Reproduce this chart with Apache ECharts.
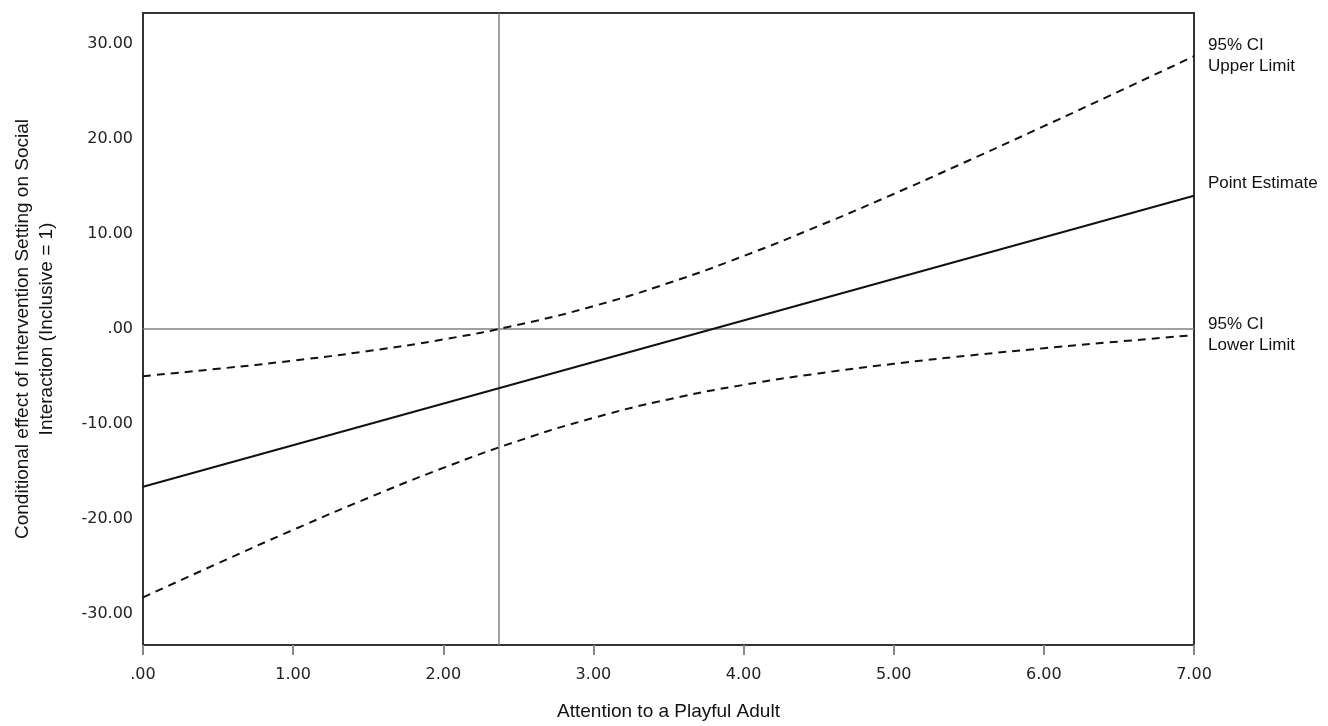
<!DOCTYPE html>
<html>
<head>
<meta charset="utf-8">
<script src="https://cdn.jsdelivr.net/npm/echarts@6/dist/echarts.min.js"></script>
<style>
html,body{margin:0;padding:0;background:#fff;}
#chart{width:1328px;height:726px;}
</style>
</head>
<body>
<div id="chart"></div>
<script>
// ---- data ----
const xValues   = [0, 0.5, 1, 1.5, 2, 2.5, 3, 3.5, 4, 4.5, 5, 5.5, 6, 6.5, 7];
const upperCI   = [-4.97, -4.19, -3.33, -2.32, -1.10, 0.45, 2.41, 4.84, 7.69, 10.86, 14.23, 17.76, 21.37, 25.04, 28.75];
const lowerCI   = [-28.29, -24.69, -21.17, -17.80, -14.64, -11.79, -9.37, -7.42, -5.89, -4.68, -3.67, -2.80, -2.03, -1.32, -0.65];
const pointX    = [0, 7];
const pointY    = [-16.63, 14.05];
const jnPoint   = 2.365;
const yTickValues = [-30, -20, -10, 0, 10, 20, 30];
const seriesNames = ['95% CI\nUpper Limit', 'Point Estimate', '95% CI\nLower Limit'];
const xTitle = 'Attention to a Playful Adult';
const yTitle = 'Conditional effect of Intervention Setting on Social\nInteraction (Inclusive = 1)';

function fmt(v) {
  let s = Number(v).toFixed(2);
  s = s.replace(/^0\./, '.').replace(/^-0\./, '-.');
  return s;
}
function pairs(xs, ys) { return xs.map((x, i) => [x, ys[i]]); }

const tickFont = { fontFamily: 'DejaVu Sans', fontSize: 16, color: '#222' };
const labelFont = { fontFamily: 'Liberation Sans', fontSize: 17, color: '#111', lineHeight: 21 };

const chart = echarts.init(document.getElementById('chart'), null, { renderer: 'canvas' });
chart.setOption({
  animation: false,
  backgroundColor: '#fff',
  grid: { left: 143, right: 134, top: 13, bottom: 77, show: true, borderColor: '#333', borderWidth: 2, containLabel: false },
  xAxis: {
    type: 'value', min: 0, max: 7, interval: 1,
    name: xTitle, nameLocation: 'middle', nameGap: 57,
    nameTextStyle: { fontFamily: 'Liberation Sans', fontSize: 19, color: '#111' },
    axisLine: { show: true, onZero: false, lineStyle: { color: '#333', width: 2 } },
    axisTick: { show: true, inside: false, length: 10, lineStyle: { color: '#888', width: 2 } },
    axisLabel: Object.assign({ margin: 22, formatter: fmt }, tickFont),
    splitLine: { show: false }
  },
  yAxis: {
    type: 'value', min: -33.3, max: 33.3,
    name: yTitle, nameLocation: 'middle', nameGap: 84, nameRotate: 90,
    nameTextStyle: { fontFamily: 'Liberation Sans', fontSize: 19, color: '#111', lineHeight: 24 },
    axisLine: { show: true, onZero: false, lineStyle: { color: '#333', width: 2 } },
    axisTick: { show: false },
    axisLabel: Object.assign({ margin: 10, formatter: fmt, customValues: yTickValues, padding: [5, 0, 0, 0] }, tickFont),
    splitLine: { show: false }
  },
  series: [
    {
      name: seriesNames[0], type: 'line', data: pairs(xValues, upperCI), symbol: 'none', smooth: true,
      lineStyle: { color: '#111', width: 2, type: [8, 6] },
      endLabel: Object.assign({ show: true, formatter: '{a}', distance: 14, align: 'left' }, labelFont),
      z: 5
    },
    {
      name: seriesNames[1], type: 'line', data: pairs(pointX, pointY), symbol: 'none',
      lineStyle: { color: '#111', width: 2, type: 'solid' },
      endLabel: Object.assign({ show: true, formatter: '{a}', distance: 14, align: 'left', offset: [0, -12] }, labelFont),
      markLine: {
        silent: true, symbol: 'none', label: { show: false },
        lineStyle: { color: '#808080', width: 1.5, type: 'solid' },
        data: [{ xAxis: jnPoint }, { yAxis: 0 }]
      },
      z: 5
    },
    {
      name: seriesNames[2], type: 'line', data: pairs(xValues, lowerCI), symbol: 'none', smooth: true,
      lineStyle: { color: '#111', width: 2, type: [8, 6] },
      endLabel: Object.assign({ show: true, formatter: '{a}', distance: 14, align: 'left' }, labelFont),
      z: 5
    }
  ]
});
</script>
</body>
</html>
